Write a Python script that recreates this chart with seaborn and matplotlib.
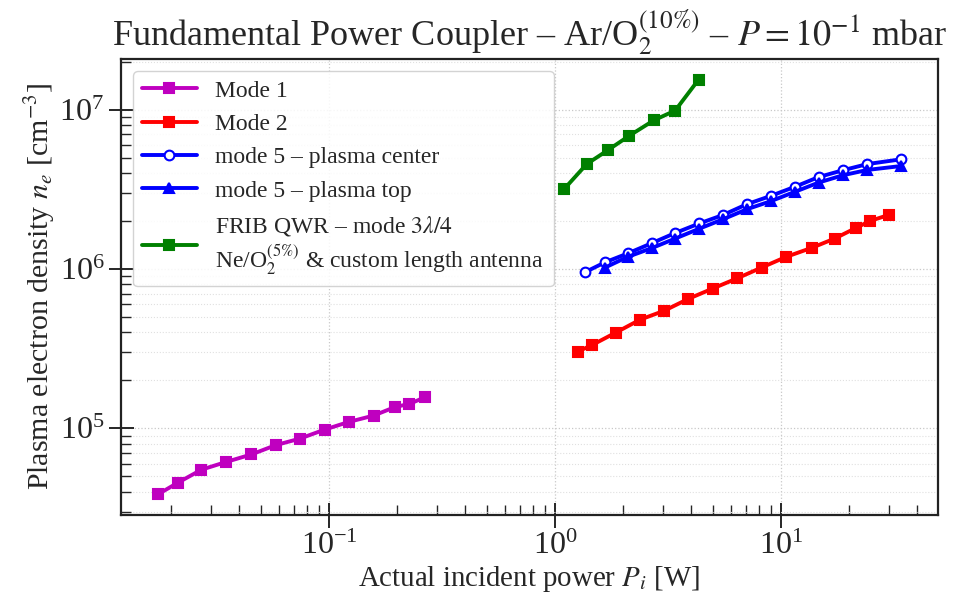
import numpy as np
import pandas as pd
import seaborn as sns
import matplotlib
matplotlib.use("Agg")
import matplotlib.pyplot as plt
from matplotlib.ticker import LogLocator, NullFormatter

# Measured series: incident power [W] and electron density [cm^-3]
mode1_p = [0.0175, 0.0214, 0.0272, 0.0351, 0.0452, 0.058, 0.0743, 0.0954,
           0.122, 0.157, 0.196, 0.226, 0.264]
mode1_ne = [3.85e4, 4.55e4, 5.49e4, 6.15e4, 6.84e4, 7.83e4, 8.61e4, 9.8e4,
            1.095e5, 1.2e5, 1.36e5, 1.42e5, 1.56e5]

mode2_p = [1.26, 1.45, 1.85, 2.37, 3.03, 3.88, 4.97, 6.39, 8.18, 10.5,
           13.7, 17.2, 21.4, 24.7, 29.8]
mode2_ne = [3.03e5, 3.32e5, 3.98e5, 4.8e5, 5.46e5, 6.49e5, 7.53e5, 8.74e5,
            1.02e6, 1.19e6, 1.36e6, 1.55e6, 1.81e6, 2.0e6, 2.18e6]

m5c_p = [1.35, 1.66, 2.09, 2.67, 3.39, 4.34, 5.52, 7.05, 8.97, 11.5,
         14.6, 18.7, 24.0, 33.7]
m5c_ne = [9.52e5, 1.10e6, 1.25e6, 1.45e6, 1.68e6, 1.93e6, 2.18e6, 2.55e6,
          2.87e6, 3.28e6, 3.77e6, 4.16e6, 4.55e6, 4.87e6]

m5t_p = [1.66, 2.09, 2.67, 3.39, 4.34, 5.52, 7.05, 8.97, 11.5, 14.6,
         18.7, 24.0, 33.7]
m5t_ne = [1.02e6, 1.19e6, 1.35e6, 1.55e6, 1.79e6, 2.05e6, 2.37e6, 2.66e6,
          3.05e6, 3.48e6, 3.87e6, 4.18e6, 4.42e6]

frib_p = [1.096, 1.377, 1.71, 2.12, 2.73, 3.39, 4.30]
frib_ne = [3.18e6, 4.55e6, 5.57e6, 6.84e6, 8.57e6, 9.86e6, 1.54e7]

labels = [
    "Mode 1",
    "Mode 2",
    "mode 5 – plasma center",
    "mode 5 – plasma top",
    "FRIB QWR – mode $3\\lambda/4$\nNe/O$_2^{(5\\%)}$ & custom length antenna",
]

sns.set_style("ticks")
plt.rcParams["font.family"] = ["Liberation Serif", "DejaVu Serif"]
plt.rcParams["mathtext.fontset"] = "stix"

fig = plt.figure(figsize=(9.71, 6.0), dpi=100)
ax = fig.add_axes([0.1246, 0.1417, 0.8412, 0.76])

styles = [
    (mode1_p, mode1_ne, "m", "s", "m"),
    (mode2_p, mode2_ne, "r", "s", "r"),
    (m5c_p, m5c_ne, "b", "o", "white"),
    (m5t_p, m5t_ne, "b", "^", "b"),
    (frib_p, frib_ne, "g", "s", "g"),
]

for (px, ne, col, mk, face), lab in zip(styles, labels):
    df = pd.DataFrame({"P": px, "ne": ne})
    sns.lineplot(data=df, x="P", y="ne", ax=ax, color=col, marker=mk,
                 markerfacecolor=face, markeredgecolor=col, markersize=7,
                 markeredgewidth=1.5, linewidth=2.8, label=lab,
                 estimator=None, sort=False)

ax.set_xscale("log")
ax.set_yscale("log")
ax.margins(0.05)

ax.yaxis.set_minor_locator(LogLocator(base=10, subs=np.arange(2, 10)))
ax.yaxis.set_minor_formatter(NullFormatter())
ax.xaxis.set_minor_locator(LogLocator(base=10, subs=np.arange(2, 10)))
ax.xaxis.set_minor_formatter(NullFormatter())

ax.grid(which="major", axis="both", linestyle=":", color="#c8c8c8", linewidth=0.9)
ax.grid(which="minor", axis="y", linestyle=":", color="#e0e0e0", linewidth=0.8)

ax.tick_params(which="major", direction="inout", length=18, width=1.4,
               labelsize=23, pad=3)
ax.tick_params(which="minor", direction="in", length=7, width=1.0)
for sp in ax.spines.values():
    sp.set_linewidth(1.6)
    sp.set_color("#222222")

ax.set_xlabel("Actual incident power $P_i$ [W]", fontsize=20.8, labelpad=2)
ax.set_ylabel("Plasma electron density $n_e$ [cm$^{-3}$]", fontsize=21.5, labelpad=2)
ax.set_title("Fundamental Power Coupler – Ar/O$_2^{(10\\%)}$ – $P = 10^{-1}$ mbar",
             fontsize=26, pad=9)

leg = ax.legend(loc="upper left", fontsize=17, frameon=True, fancybox=True,
                framealpha=0.85, edgecolor="#cccccc", handlelength=2.3,
                labelspacing=0.5, borderpad=0.4)

fig.savefig("out.png", dpi=100)
